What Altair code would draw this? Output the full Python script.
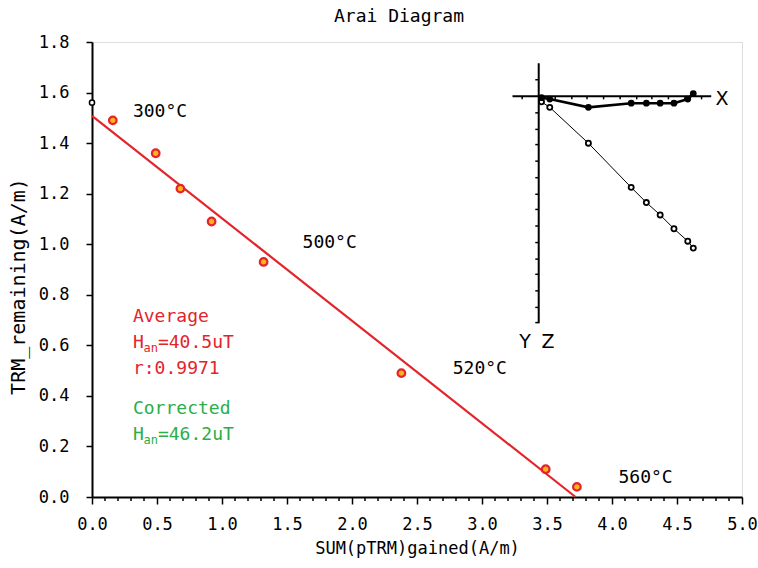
import altair as alt
import pandas as pd

# ---------------- data ----------------
arai_x = [0.16, 0.49, 0.68, 0.92, 1.32, 2.38, 3.49, 3.73]
arai_y = [1.49, 1.36, 1.22, 1.09, 0.93, 0.49, 0.11, 0.04]
nrm_x = [0.0]
nrm_y = [1.56]
fit_x = [0.0, 3.72]
fit_y = [1.508, 0.0]

temp_labels = ["300°C", "500°C", "520°C", "560°C"]
temp_x = [0.315, 1.62, 2.775, 4.05]
temp_y = [1.524, 1.006, 0.505, 0.074]

x_ticks = [0.0, 0.5, 1.0, 1.5, 2.0, 2.5, 3.0, 3.5, 4.0, 4.5, 5.0]
y_ticks = [0.0, 0.2, 0.4, 0.6, 0.8, 1.0, 1.2, 1.4, 1.6, 1.8]
x_minor = [0.1, 0.2, 0.3, 0.4, 0.6, 0.7, 0.8, 0.9, 1.1, 1.2, 1.3, 1.4, 1.6, 1.7,
           1.8, 1.9, 2.1, 2.2, 2.3, 2.4, 2.6, 2.7, 2.8, 2.9, 3.1, 3.2, 3.3, 3.4,
           3.6, 3.7, 3.8, 3.9, 4.1, 4.2, 4.3, 4.4, 4.6, 4.7, 4.8, 4.9]

# annotation block
ann_main = ["Average", "H", "r:0.9971", "Corrected", "H"]
ann_main_y = [0.713, 0.608, 0.505, 0.347, 0.245]
ann_sub = ["an", "an"]
ann_sub_y = [0.608, 0.245]
ann_rest = ["=40.5uT", "=46.2uT"]
ann_rest_y = [0.608, 0.245]
ann_x = 0.315
RED = "#E3242B"
GREEN = "#2BAE48"
ann_main_c = [RED, RED, RED, GREEN, GREEN]
ann_sub_c = [RED, GREEN]

# inset (Zijderveld) data
zij_x = [0.02, 0.08, 0.36, 0.67, 0.78, 0.88, 0.98, 1.08, 1.12]
zij_y = [0.01, 0.02, 0.08, 0.05, 0.05, 0.05, 0.05, 0.02, -0.02]
zij_z = [0.04, 0.08, 0.34, 0.66, 0.77, 0.86, 0.96, 1.05, 1.10]
zij_vticks = [-0.12, 0.12, 0.24, 0.35, 0.47, 0.59, 0.71, 0.82, 0.94, 1.06,
              1.18, 1.29, 1.41, 1.53, 1.64]
zij_hticks = [-0.12, 0.12, 0.24, 0.35, 0.47, 0.59, 0.71, 0.82, 0.94, 1.06, 1.18]
zij_labels = ["X", "Y", "Z"]
zij_label_u = [1.328, -0.099, 0.067]
zij_label_v = [0.02, 1.78, 1.78]

MONO = "DejaVu Sans Mono"
W, H = 650, 455

# ---------------- main encodings ----------------
x_axis = alt.Axis(values=x_ticks, format=".1f", title="SUM(pTRM)gained(A/m)",
                  grid=False, domainColor="black", domainWidth=2,
                  tickColor="black", tickWidth=1.5, tickSize=7,
                  labelFont=MONO, labelFontSize=17, labelPadding=12,
                  labelColor="black", labelFlush=False,
                  titleFont=MONO, titleFontSize=17, titleFontWeight="normal",
                  titleColor="black", titleX=325, titleY=51,
                  titleBaseline="middle", titleAlign="center")
y_axis = alt.Axis(values=y_ticks, format=".1f", title="TRM_remaining(A/m)",
                  grid=False, domainColor="black", domainWidth=2,
                  tickColor="black", tickWidth=1.5, tickSize=6,
                  labelFont=MONO, labelFontSize=17, labelPadding=17,
                  labelColor="black", labelFlush=False,
                  titleFont=MONO, titleFontSize=20, titleFontWeight="normal",
                  titleColor="black", titleX=-74, titleY=244,
                  titleAngle=-90, titleBaseline="middle", titleAlign="center")
xs = alt.Scale(domain=[0, 5], nice=False, zero=False)
ys = alt.Scale(domain=[0, 1.8], nice=False, zero=False)
X = alt.X("x:Q", scale=xs, axis=x_axis)
Y = alt.Y("y:Q", scale=ys, axis=y_axis)

fit = alt.Chart(pd.DataFrame({"x": fit_x, "y": fit_y})).mark_line(
    color=RED, strokeWidth=2.2).encode(x=X, y=Y)

pts = alt.Chart(pd.DataFrame({"x": arai_x, "y": arai_y})).mark_point(
    filled=True, fill="#F9B418", stroke=RED, strokeWidth=2.2, size=58, opacity=1
).encode(x=X, y=Y)

nrm = alt.Chart(pd.DataFrame({"x": nrm_x, "y": nrm_y})).mark_point(
    fill="white", filled=False, stroke="black", strokeWidth=1.5, size=26,
    opacity=1).encode(x=X, y=Y)

minor = alt.Chart(pd.DataFrame({"x": x_minor})).mark_rule(
    color="black", strokeWidth=1.5).encode(
    x=X, y=alt.value(H), y2=alt.value(H + 4))

temps = alt.Chart(pd.DataFrame({"x": temp_x, "y": temp_y, "t": temp_labels})).mark_text(
    font=MONO, fontSize=18, align="left", baseline="middle", color="black"
).encode(x=X, y=Y, text="t:N")

ann1 = alt.Chart(pd.DataFrame({"x": [ann_x] * len(ann_main), "y": ann_main_y,
                               "t": ann_main, "c": ann_main_c})).mark_text(
    font=MONO, fontSize=18, align="left", baseline="middle"
).encode(x=X, y=Y, text="t:N", color=alt.Color("c:N", scale=None))

ann2 = alt.Chart(pd.DataFrame({"x": [ann_x] * len(ann_sub), "y": ann_sub_y,
                               "t": ann_sub, "c": ann_sub_c})).mark_text(
    font=MONO, fontSize=12, align="left", baseline="middle", dx=10.5, dy=5
).encode(x=X, y=Y, text="t:N", color=alt.Color("c:N", scale=None))

ann3 = alt.Chart(pd.DataFrame({"x": [ann_x] * len(ann_rest), "y": ann_rest_y,
                               "t": ann_rest, "c": ann_sub_c})).mark_text(
    font=MONO, fontSize=18, align="left", baseline="middle", dx=25
).encode(x=X, y=Y, text="t:N", color=alt.Color("c:N", scale=None))

main = alt.layer(minor, fit, nrm, pts, temps, ann1, ann2, ann3)

# ---------------- inset ----------------
us = alt.Scale(domain=[-3.237, 1.473], nice=False, zero=False)
vs = alt.Scale(domain=[-0.3935, 2.904], nice=False, zero=False, reverse=True)
U = alt.X("u:Q", scale=us, axis=None)
V = alt.Y("v:Q", scale=vs, axis=None)

axes_df = pd.DataFrame({"u": [-0.19, 0.0], "u2": [1.25, 0.0],
                        "v": [0.0, -0.24], "v2": [0.0, 1.645]})
zaxes = alt.Chart(axes_df).mark_rule(color="black", strokeWidth=2).encode(
    x=U, x2="u2:Q", y=V, y2="v2:Q")

# vertical-axis ticks (to the left of the axis)
vt = alt.Chart(pd.DataFrame({"v": zij_vticks, "u": [-0.025] * len(zij_vticks),
                             "u2": [0.0] * len(zij_vticks)})).mark_rule(
    color="black", strokeWidth=1.5).encode(x=U, x2="u2:Q", y=V)
ht = alt.Chart(pd.DataFrame({"u": zij_hticks, "v": [0.0] * len(zij_hticks),
                             "v2": [0.022] * len(zij_hticks)})).mark_rule(
    color="black", strokeWidth=1.5).encode(x=U, y=V, y2="v2:Q")

zdf = pd.DataFrame({"u": zij_x, "vy": zij_y, "vz": zij_z, "o": list(range(len(zij_x)))})
VY = alt.Y("vy:Q", scale=vs, axis=None)
VZ = alt.Y("vz:Q", scale=vs, axis=None)

zline = alt.Chart(zdf).mark_line(color="black", strokeWidth=1).encode(
    x=U, y=VZ, order="o:Q")
zpts = alt.Chart(zdf).mark_point(fill="white", filled=False, stroke="black",
                                 strokeWidth=1.8, size=26, opacity=1).encode(x=U, y=VZ)
yline = alt.Chart(zdf).mark_line(color="black", strokeWidth=2.6).encode(
    x=U, y=VY, order="o:Q")
ypts = alt.Chart(zdf).mark_circle(color="black", size=45, opacity=1).encode(x=U, y=VY)

zlab = alt.Chart(pd.DataFrame({"u": zij_label_u, "v": zij_label_v, "t": zij_labels})).mark_text(
    font="DejaVu Sans", fontSize=19, align="center", baseline="middle", color="black"
).encode(x=U, y=V, text="t:N")

inset = alt.layer(zaxes, vt, ht, zline, zpts, yline, ypts, zlab)

chart = alt.layer(main, inset).resolve_scale(x="independent", y="independent").properties(
    width=W, height=H,
    title=alt.TitleParams("Arai Diagram", font=MONO, fontSize=18, fontWeight="normal",
                          color="black", anchor="middle", frame="group",
                          baseline="alphabetic", offset=-7, dx=-18),
    padding={"left": 92, "top": 42, "right": 16, "bottom": 71},
    autosize=alt.AutoSizeParams(type="none"),
).configure_view(stroke="#9a9a9a", strokeWidth=1).configure(background="white")

chart.save("out.html", embed_options={"renderer": "svg", "actions": False})
